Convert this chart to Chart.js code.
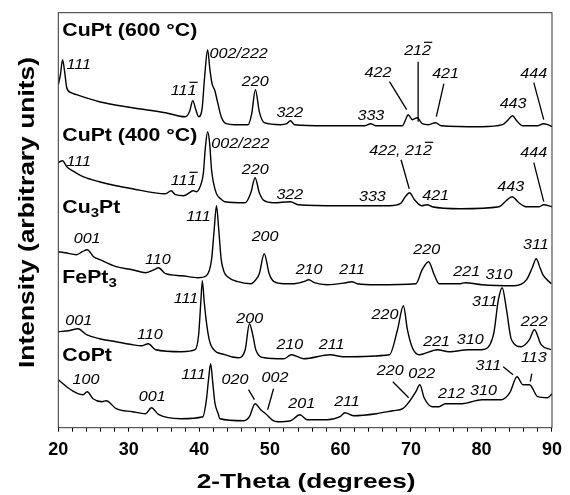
<!DOCTYPE html>
<html>
<head>
<meta charset="utf-8">
<script src="https://cdn.jsdelivr.net/npm/chart.js@4"></script>
<style>
  html, body { margin: 0; padding: 0; background: #fff; }
  #wrap { width: 570px; height: 495px; }
</style>
</head>
<body>
<div id="wrap"><canvas id="xrd"></canvas></div>
<script>
/* XRD patterns, stacked. x = 2-theta (deg), y = intensity in arbitrary units (offset already included) */

const cupt600 = [
  [20.0,343],[20.3,353],[20.6,368],[20.9,356],[21.2,340],[21.8,335],[22.6,333],[25.8,326],[30.5,320],
  [35.2,315],[38.0,311],[38.6,316],[39.07,327],[39.5,318],[39.9,311],[40.37,318],[40.75,351],[41.17,378],
  [41.5,358],[41.8,344],[42.2,337],[42.6,325],[43.1,311],[43.8,304],[45.0,303],[46.9,303],[47.4,313],
  [47.95,338],[48.5,316],[49.2,305],[51.5,303],[52.4,304],[52.9,307],[53.5,303],[58.0,302],[63.5,302],
  [64.3,304],[65.0,302],[68.8,302],[69.3,309],[69.6,313],[70.2,308],[70.9,310],[71.6,304],[72.5,303],
  [73.5,305],[74.3,302],[80.0,301],[83.0,303],[83.8,308],[84.4,312],[85.0,307],[85.8,302],[88.0,302],
  [88.8,304],[89.4,303],[90.0,301]
];

const cupt400 = [
  [20.0,265],[20.6,267],[21.2,261],[22.0,257],[23.5,251],[25.8,246],[30.5,239],[35.2,234],[36.0,237],
  [36.6,233],[37.8,232],[38.6,235],[39.1,237],[39.6,236],[40.1,241],[40.56,254],[40.85,280],[41.17,296],
  [41.45,285],[41.73,258],[42.0,245],[42.43,234],[43.0,229],[43.6,226],[46.5,225],[47.3,235],[47.9,250],
  [48.5,235],[49.2,227],[50.5,225],[52.9,226],[54.0,223],[60.0,222],[64.5,222],[67.0,222],[68.5,224],
  [69.2,231],[69.8,235],[70.5,228],[71.5,222],[72.3,223],[73.0,221],[77.0,219],[82.5,221],[83.5,227],
  [84.35,231],[85.3,225],[86.3,221],[88.2,221],[88.8,223],[90.0,221]
];

const cu3pt = [
  [20.0,176],[21.0,175],[22.6,173],[23.4,176],[24.1,178],[25.0,171],[25.9,168],[28.2,161],[30.5,158],
  [32.4,155],[33.6,158],[34.2,160],[35.2,154],[37.5,152],[39.8,150],[41.0,152],[41.73,168],[42.1,198],
  [42.43,222],[42.75,198],[43.1,168],[43.5,156],[44.0,151],[45.45,146],[47.3,144],[48.0,148],[48.5,154],
  [49.2,174],[49.9,154],[50.6,146],[52.0,144],[53.4,144],[54.8,146],[55.5,148],[56.3,145],[58.1,143],
  [60.8,145],[61.6,146],[62.4,144],[65.1,143],[70.7,144],[71.6,158],[72.5,166],[73.3,153],[74.0,144],
  [77.0,144],[77.7,145],[80.05,143],[84.7,142],[86.4,148],[87.2,160],[87.76,169],[88.3,160],[88.7,153],
  [89.9,144]
];

const fept3 = [
  [20.0,96],[21.5,97],[22.8,99],[24.0,93],[25.85,89],[28.2,86],[30.5,83],[31.9,82],[32.75,84],[33.8,78],
  [37.5,76],[39.4,78],[39.9,93],[40.2,125],[40.42,147],[40.7,125],[41.03,104],[41.4,88],[41.73,81],
  [43.6,73],[45.5,70],[46.5,78],[47.1,104],[47.6,92],[48.0,78],[49.2,70],[52.0,69],[53.04,73],[54.8,69],
  [58.55,73],[60.4,71],[66.96,73],[68.1,98],[68.93,122],[69.5,98],[70.2,80],[71.2,73],[73.75,78],
  [75.4,76],[78.2,78],[80.05,78],[81.7,93],[82.4,128],[82.94,140],[83.55,118],[84.25,88],[85.66,81],
  [86.8,88],[87.5,98],[88.46,83],[89.86,78]
];

const copt = [
  [20.0,48],[20.5,45],[21.17,41],[22.8,34],[23.5,33],[24.1,36],[24.93,29],[26.2,26],[26.8,27],[28.2,19],
  [30.5,16],[32.4,14],[33.2,20],[34.25,13],[37.4,9],[40.5,11],[41.0,28],[41.3,48],[41.6,64],[41.9,45],
  [42.2,25],[42.67,14],[42.9,9],[46.3,7],[47.1,11],[47.9,24],[48.7,18],[49.4,14],[50.47,7],[51.08,6],
  [52.94,7],[54.26,13],[55.28,8],[58.1,8],[59.95,11],[60.65,15],[61.83,12],[65.1,14],[67.43,17],
  [68.84,19],[69.76,26],[70.7,36],[71.26,43],[71.87,30],[73.04,21],[73.97,21],[74.9,24],[77.25,24],
  [80.05,28],[82.86,28],[84.02,35],[85.04,51],[85.88,43],[86.82,43],[87.98,31],[89.38,30],[90.0,34]
];

const traces = [cupt600, cupt400, cu3pt, fept3, copt];

// sample names: {x} = subscript
const sampleNames = ['CuPt (600 °C)', 'CuPt (400 °C)', 'Cu{3}Pt', 'FePt{3}', 'CoPt'];
const sampleNameY = [397, 292, 220, 150, 72];

// peak (hkl) labels: [2theta, intensity, text], [x] = overbar
const peakLabels = [
  [22.9,363,'111'],[37.76,337,'11[1]'],[45.58,374,'002/222'],[47.92,346,'220'],[52.83,315,'322'],
  [64.32,312,'333'],[65.33,355,'422'],[70.94,377,'21[2]'],[74.91,354,'421'],[84.48,324,'443'],[87.42,354,'444'],

  [22.9,266,'111'],[37.76,247,'11[1]'],[45.82,284,'002/222'],[47.92,258,'220'],[52.83,233,'322'],
  [64.53,231,'333'],[68.53,277,'422, 21[2]'],[73.5,232,'421'],[84.16,241,'443'],[87.42,275,'444'],

  [24.09,189,'001'],[34.12,168,'110'],[39.86,211,'111'],[49.32,191,'200'],[55.56,158,'210'],
  [61.66,158,'211'],[72.24,178,'220'],[77.92,156,'221'],[82.48,153,'310'],[87.7,183,'311'],

  [22.9,107,'001'],[32.97,93,'110'],[38.11,129,'111'],[47.15,109,'200'],[52.83,83,'210'],
  [58.74,83,'211'],[66.33,113,'220'],[73.64,86,'221'],[78.41,88,'310'],[80.47,126,'311'],[87.48,106,'222'],

  [23.92,48,'100'],[33.32,31,'001'],[39.16,53,'111'],[45.05,48,'020'],[50.73,50,'002'],[54.51,24,'201'],
  [60.93,26,'211'],[67.06,57,'220'],[71.54,54,'022'],[75.75,34,'212'],[80.28,37,'310'],[80.98,62,'311'],
  [87.42,70,'113']
];

// leader lines from label to peak: [x1, y1, x2, y2]
const leaderLines = [
  [66.96,346,69.4,318],[71.02,366,71.02,306],[74.67,344,73.6,311],[87.42,345,88.83,308],
  [68.6,268,69.76,239],[87.42,265,88.83,226],
  [46.97,38,47.81,28],[50.52,39,49.68,18],[67.43,46,69.68,30],[83.08,61,84.48,53],[87.14,54,86.92,46]
];

const FONT = 'Arial, "Liberation Sans", Helvetica, sans-serif';

function parseRich(str) {
  const parts = [];
  const re = /\{([^}]*)\}|\[([^\]]*)\]|([^{\[]+)/g;
  let m;
  while ((m = re.exec(str))) {
    if (m[1] !== undefined) parts.push({ t: m[1], sub: true });
    else if (m[2] !== undefined) parts.push({ t: m[2], bar: true });
    else parts.push({ t: m[3] });
  }
  return parts;
}

function drawRich(ctx, str, x, y, o) {
  const size = o.size, stretch = o.stretch || 1;
  const main = `${o.style || 'normal'} ${o.weight || 'normal'} ${size}px ${FONT}`;
  const small = `${o.style || 'normal'} ${o.weight || 'normal'} ${Math.round(size * 0.68)}px ${FONT}`;
  const parts = parseRich(str);
  ctx.save();
  let w = 0;
  parts.forEach(p => { ctx.font = p.sub ? small : main; p.w = ctx.measureText(p.t).width; w += p.w; });
  let x0 = o.align === 'left' ? 0 : o.align === 'right' ? -w : -w / 2;
  ctx.translate(x, y);
  if (o.rotate) ctx.rotate(o.rotate);
  ctx.scale(stretch, 1);
  ctx.fillStyle = '#000';
  ctx.strokeStyle = '#000';
  ctx.textAlign = 'left';
  ctx.textBaseline = o.baseline || 'middle';
  parts.forEach(p => {
    ctx.font = p.sub ? small : main;
    ctx.fillText(p.t, x0, p.sub ? size * 0.3 : 0);
    if (p.bar) {
      ctx.lineWidth = 1.2;
      ctx.beginPath();
      ctx.moveTo(x0 + size * 0.12, -size * 0.6);
      ctx.lineTo(x0 + p.w + size * 0.08, -size * 0.6);
      ctx.stroke();
    }
    x0 += p.w;
  });
  ctx.restore();
}

const annotate = {
  id: 'annotate',
  beforeDraw(chart) {
    const ctx = chart.ctx;
    ctx.save();
    ctx.fillStyle = '#fff';
    ctx.fillRect(0, 0, chart.width, chart.height);
    ctx.restore();
  },
  afterDatasetsDraw(chart) {
    const { ctx, chartArea: a, scales: { x, y } } = chart;
    ctx.save();
    // frame
    ctx.strokeStyle = '#333';
    ctx.lineWidth = 1;
    ctx.strokeRect(a.left, a.top, a.right - a.left, a.bottom - a.top);

    // leader lines
    ctx.strokeStyle = '#000';
    ctx.lineWidth = 1.3;
    leaderLines.forEach(([x1, y1, x2, y2]) => {
      ctx.beginPath();
      ctx.moveTo(x.getPixelForValue(x1), y.getPixelForValue(y1));
      ctx.lineTo(x.getPixelForValue(x2), y.getPixelForValue(y2));
      ctx.stroke();
    });

    // hkl labels
    peakLabels.forEach(([t, v, s]) => {
      drawRich(ctx, s, x.getPixelForValue(t), y.getPixelForValue(v), { size: 14, style: 'italic', stretch: 1.15 });
    });

    // sample names
    sampleNames.forEach((s, i) => {
      drawRich(ctx, s, a.left + 4, y.getPixelForValue(sampleNameY[i]), { size: 18.5, weight: 'bold', stretch: 1.15, align: 'left' });
    });

    // axis titles
    drawRich(ctx, '2-Theta (degrees)', (a.left + a.right) / 2 + 1, 488, { size: 21, weight: 'bold', stretch: 1.25, baseline: 'alphabetic' });
    drawRich(ctx, 'Intensity (arbitrary units)', 33.5, 212.5, { size: 22, weight: 'bold', stretch: 1.2, baseline: 'alphabetic', rotate: -Math.PI / 2 });
    ctx.restore();
  }
};

new Chart(document.getElementById('xrd'), {
  type: 'line',
  data: {
    datasets: traces.map(tr => ({
      data: tr.map(([t, v]) => ({ x: t, y: v })),
      borderColor: '#000',
      borderWidth: 1.4,
      pointRadius: 0,
      fill: false,
      cubicInterpolationMode: 'monotone'
    }))
  },
  options: {
    responsive: true,
    maintainAspectRatio: false,
    animation: false,
    layout: { padding: { left: 58.3, right: 12.3, top: 12.7, bottom: 0 } },
    plugins: { legend: { display: false }, tooltip: { enabled: false } },
    scales: {
      x: {
        type: 'linear',
        min: 20,
        max: 90,
        border: { display: false },
        grid: { drawOnChartArea: false, drawTicks: true, tickLength: 4, color: '#000', tickColor: '#000' },
        ticks: {
          stepSize: 2,
          autoSkip: false,
          maxRotation: 0,
          padding: 8,
          color: '#000',
          font: { family: FONT, size: 18, weight: 'bold' },
          callback: v => (v % 10 === 0 ? String(v) : '')
        },
        afterFit(scale) { scale.height = 67.3; }
      },
      y: { type: 'linear', min: 0, max: 415, display: false }
    }
  },
  plugins: [annotate]
});
</script>
</body>
</html>
